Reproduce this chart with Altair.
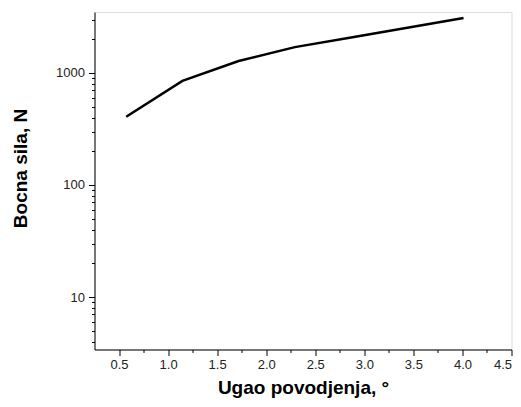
import altair as alt
import pandas as pd

angle = [0.573, 1.146, 1.719, 2.292, 2.865, 3.438, 4.011]
force = [406, 849, 1279, 1700, 2070, 2530, 3090]

df = pd.DataFrame({"angle": angle, "force": force})

x_ticks = [0.5 + 0.25 * i for i in range(17)]
y_ticks = [m * 10 ** e for e in range(0, 4) for m in range(1, 10) if 3.4 <= m * 10 ** e <= 3500]

major_y = "abs(log(datum.value)/LN10 - round(log(datum.value)/LN10)) < 0.001"
major_x = "abs(datum.value*2 - round(datum.value*2)) < 0.001"

chart = alt.Chart(df).mark_line(color="black", strokeWidth=2.5).encode(
    x=alt.X(
        "angle:Q",
        scale=alt.Scale(domain=[0.25, 4.5], nice=False, zero=False),
        axis=alt.Axis(
            title="Ugao povodjenja, °",
            values=x_ticks,
            labelExpr=f"{major_x} ? format(datum.value, '.1f') : ''",
            tickSize={"condition": {"test": major_x, "value": 6}, "value": 3},
            grid=False,
            domainColor="black",
            tickColor="black",
            labelColor="#222",
            labelFont="Liberation Sans",
            labelFontSize=13,
            labelPadding=3,
            titleFont="Liberation Sans",
            titleFontSize=19,
            titleFontWeight="bold",
            titleColor="black",
            titleBaseline="alphabetic",
            titleY=44,
        ),
    ),
    y=alt.Y(
        "force:Q",
        scale=alt.Scale(type="log", domain=[3.4, 3500], nice=False),
        axis=alt.Axis(
            title="Bocna sila, N",
            values=y_ticks,
            labelExpr=f"{major_y} ? format(datum.value, 'd') : ''",
            tickSize={"condition": {"test": major_y, "value": 6}, "value": 3},
            grid=False,
            domainColor="black",
            tickColor="black",
            labelColor="#222",
            labelFont="Liberation Sans",
            labelFontSize=13,
            labelPadding=4,
            titleFont="Liberation Sans",
            titleFontSize=19,
            titleFontWeight="bold",
            titleColor="black",
            titleAngle=-90,
            titleAlign="center",
            titleBaseline="middle",
            titleX=-74.5,
            titleY=156,
        ),
    ),
).properties(
    width=417,
    height=337.5,
    autosize=alt.AutoSizeParams(type="none"),
    padding={"left": 86.5, "top": 4, "right": 1, "bottom": 49},
).configure_view(stroke=None).configure(background="white")

chart.save("out.html", embed_options={"renderer": "svg", "actions": False})
